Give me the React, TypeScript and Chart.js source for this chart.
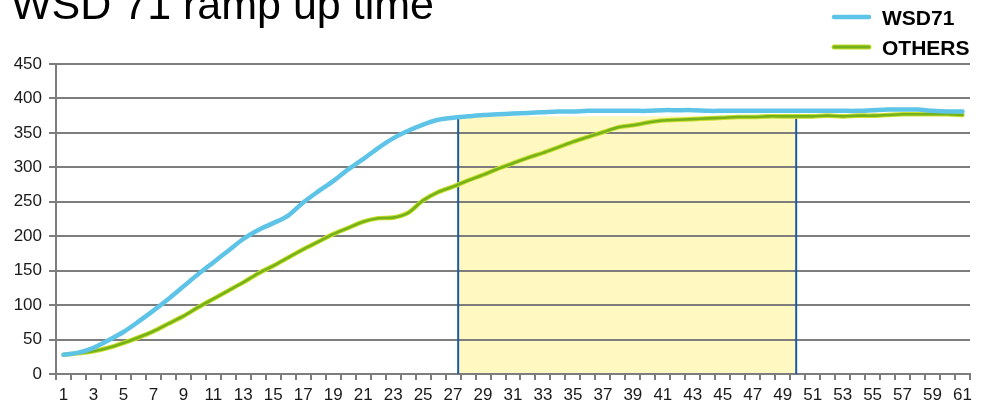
import { useEffect, useRef } from "react";
import { Chart, registerables } from "chart.js";

Chart.register(...registerables);

const titleText = "WSD 71 ramp up time";
const seriesNames = ["WSD71", "OTHERS"];

const categories = [
  "1", "2", "3", "4", "5", "6", "7", "8", "9", "10",
  "11", "12", "13", "14", "15", "16", "17", "18", "19", "20",
  "21", "22", "23", "24", "25", "26", "27", "28", "29", "30",
  "31", "32", "33", "34", "35", "36", "37", "38", "39", "40",
  "41", "42", "43", "44", "45", "46", "47", "48", "49", "50",
  "51", "52", "53", "54", "55", "56", "57", "58", "59", "60",
  "61",
];

const wsd71 = [
  28, 31, 38, 49, 61, 76, 92, 109, 127, 145,
  162, 179, 196, 209, 219, 230, 249, 265, 280, 297,
  312, 328, 342, 353, 362, 369, 372, 374, 376, 377,
  378, 379, 380, 381, 381, 382, 382, 382, 382, 382,
  383, 383, 383, 382, 382, 382, 382, 382, 382, 382,
  382, 382, 382, 382, 383, 384, 384, 384, 382, 381,
  381,
];

const others = [
  28, 30, 33, 38, 45, 53, 62, 73, 84, 97,
  109, 121, 133, 146, 157, 169, 181, 192, 203, 212,
  221, 226, 227, 234, 252, 264, 272, 281, 289, 298,
  306, 314, 321, 329, 337, 344, 351, 358, 361, 365,
  368, 369, 370, 371, 372, 373, 373, 374, 374, 374,
  374, 375, 374, 375, 375, 376, 377, 377, 377, 377,
  376,
];

const yMin = 0;
const yMax = 450;
const yStep = 50;

// highlighted ramp-up window, in category positions (1-based), and its heights
const highlightRange = [27.34, 49.9];
const highlightTop = 374;
const markerTop = 371;

const BLUE = "#5dc4e8";
const GREEN = "#74b21c";
const GREEN_EDGE = "#cadd2a";
const GRID = "#7d7d7d";
const FONT = "'Liberation Sans', Arial, sans-serif";

const bandPlugin = {
  id: "band",
  beforeDraw(chart: any) {
    const { ctx, scales } = chart;
    const x = scales.x;
    const y = scales.y;
    const x0 = x.getPixelForValue(highlightRange[0] - 1);
    const x1 = x.getPixelForValue(highlightRange[1] - 1);
    const yb = y.getPixelForValue(0);
    const yt = y.getPixelForValue(highlightTop);
    ctx.save();
    ctx.fillStyle = "#fff8c0";
    ctx.fillRect(x0, yt, x1 - x0, yb - yt);
    ctx.restore();
  },
  beforeDatasetsDraw(chart: any) {
    const { ctx, scales } = chart;
    const x = scales.x;
    const y = scales.y;
    const yb = y.getPixelForValue(0);
    const yt = y.getPixelForValue(markerTop);
    ctx.save();
    ctx.strokeStyle = "#1a5aa6";
    ctx.lineWidth = 2;
    for (const p of highlightRange) {
      const px = x.getPixelForValue(p - 1);
      ctx.beginPath();
      ctx.moveTo(px, yb);
      ctx.lineTo(px, yt);
      ctx.stroke();
    }
    ctx.restore();
  },
  afterDraw(chart: any) {
    const { ctx } = chart;
    ctx.save();
    // title
    ctx.fillStyle = "#000";
    ctx.font = `43px ${FONT}`;
    ctx.textBaseline = "alphabetic";
    ctx.textAlign = "left";
    ctx.fillText(titleText, 11, 18.5);
    // legend
    const items = [
      { name: seriesNames[0], y: 17, color: BLUE, edge: null as string | null },
      { name: seriesNames[1], y: 47, color: GREEN, edge: GREEN_EDGE },
    ];
    ctx.lineCap = "round";
    for (const it of items) {
      if (it.edge) {
        ctx.strokeStyle = it.edge;
        ctx.lineWidth = 5;
        ctx.beginPath();
        ctx.moveTo(834, it.y);
        ctx.lineTo(869, it.y);
        ctx.stroke();
        ctx.strokeStyle = it.color;
        ctx.lineWidth = 3;
      } else {
        ctx.strokeStyle = it.color;
        ctx.lineWidth = 4.5;
      }
      ctx.beginPath();
      ctx.moveTo(834, it.y);
      ctx.lineTo(869, it.y);
      ctx.stroke();
      ctx.fillStyle = "#000";
      ctx.font = `bold 21px ${FONT}`;
      ctx.textBaseline = "middle";
      ctx.fillText(it.name, 882, it.y + 2);
    }
    ctx.restore();
  },
};

export default function App() {
  const ref = useRef<HTMLCanvasElement | null>(null);

  useEffect(() => {
    document.body.style.margin = "0";
    const canvas = ref.current;
    if (!canvas) return;
    const chart = new Chart(canvas, {
      type: "line",
      data: {
        labels: categories,
        datasets: [
          {
            label: seriesNames[0],
            data: wsd71,
            borderColor: BLUE,
            borderWidth: 4.5,
            pointRadius: 0,
            tension: 0.3,
            borderCapStyle: "round",
            borderJoinStyle: "round",
            fill: false,
          },
          {
            label: seriesNames[1],
            data: others,
            borderColor: GREEN,
            borderWidth: 2.6,
            pointRadius: 0,
            tension: 0.3,
            borderCapStyle: "round",
            borderJoinStyle: "round",
            fill: false,
          },
          {
            label: seriesNames[1] + " edge",
            data: others,
            borderColor: GREEN_EDGE,
            borderWidth: 4.6,
            pointRadius: 0,
            tension: 0.3,
            borderCapStyle: "round",
            borderJoinStyle: "round",
            fill: false,
          },
        ],
      },
      options: {
        responsive: false,
        animation: false,
        devicePixelRatio: 1,
        layout: { padding: { top: 64, right: 17, left: 0, bottom: 0 } },
        plugins: {
          legend: { display: false },
          title: { display: false },
          tooltip: { enabled: false },
        },
        scales: {
          x: {
            type: "category",
            offset: true,
            afterFit: (s: any) => {
              s.height = 31;
            },
            grid: {
              offset: true,
              drawOnChartArea: false,
              drawTicks: true,
              tickLength: 6,
              color: GRID,
              lineWidth: 2,
            },
            border: { display: true, color: GRID, width: 2 },
            ticks: {
              autoSkip: false,
              maxRotation: 0,
              minRotation: 0,
              padding: 5,
              color: "#1a1a1a",
              font: { family: FONT, size: 17 },
              callback: (_v: any, i: number) => (i % 2 === 0 ? categories[i] : ""),
            },
          },
          y: {
            min: yMin,
            max: yMax,
            afterFit: (s: any) => {
              s.width = 56;
            },
            grid: {
              color: GRID,
              lineWidth: 2,
              tickLength: 7,
              drawTicks: true,
            },
            border: { display: true, color: GRID, width: 2 },
            ticks: {
              stepSize: yStep,
              padding: 7,
              color: "#1a1a1a",
              font: { family: FONT, size: 17 },
            },
          },
        },
      },
      plugins: [bandPlugin],
    });
    return () => chart.destroy();
  }, []);

  return (
    <div style={{ width: 987, height: 405 }}>
      <canvas ref={ref} width={987} height={405} style={{ display: "block" }} />
    </div>
  );
}
